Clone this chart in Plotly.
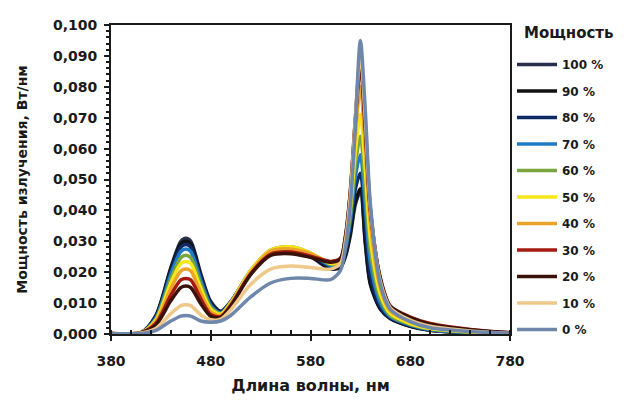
import plotly.graph_objects as go

wavelength = [380, 410, 425, 440, 450, 455, 460, 470, 480, 490, 500, 520, 540, 560, 580,
              600, 610, 615, 620, 625, 630, 635, 640, 650, 660, 680, 700, 740, 780]

p100 = [0.0002, 0.0004, 0.0060, 0.0215, 0.0300, 0.0310, 0.0300, 0.0195, 0.0105, 0.0074, 0.0105, 0.0200, 0.0260, 0.0270, 0.0250,
        0.0210, 0.0215, 0.0250, 0.0320, 0.0420, 0.0460, 0.0290, 0.0160, 0.0080, 0.0050, 0.0025, 0.0012, 0.0004, 0.0001]
p90 = [0.0002, 0.0004, 0.0058, 0.0210, 0.0291, 0.0300, 0.0291, 0.0189, 0.0100, 0.0072, 0.0103, 0.0200, 0.0262, 0.0272, 0.0252,
       0.0212, 0.0218, 0.0255, 0.0330, 0.0430, 0.0470, 0.0300, 0.0165, 0.0082, 0.0050, 0.0025, 0.0012, 0.0004, 0.0001]
p80 = [0.0002, 0.0004, 0.0055, 0.0203, 0.0281, 0.0290, 0.0281, 0.0183, 0.0097, 0.0070, 0.0102, 0.0202, 0.0265, 0.0275, 0.0255,
       0.0218, 0.0222, 0.0265, 0.0350, 0.0470, 0.0520, 0.0350, 0.0190, 0.0088, 0.0052, 0.0027, 0.0013, 0.0004, 0.0001]
p70 = [0.0002, 0.0004, 0.0052, 0.0193, 0.0267, 0.0275, 0.0267, 0.0173, 0.0092, 0.0068, 0.0103, 0.0205, 0.0270, 0.0280, 0.0260,
       0.0222, 0.0228, 0.0275, 0.0370, 0.0510, 0.0580, 0.0410, 0.0230, 0.0100, 0.0056, 0.0029, 0.0014, 0.0005, 0.0001]
p60 = [0.0002, 0.0004, 0.0048, 0.0178, 0.0247, 0.0255, 0.0247, 0.0160, 0.0086, 0.0066, 0.0102, 0.0205, 0.0272, 0.0282, 0.0262,
       0.0226, 0.0232, 0.0285, 0.0390, 0.0550, 0.0640, 0.0470, 0.0270, 0.0115, 0.0060, 0.0031, 0.0016, 0.0006, 0.0001]
p50 = [0.0002, 0.0004, 0.0045, 0.0165, 0.0228, 0.0235, 0.0228, 0.0148, 0.0080, 0.0064, 0.0100, 0.0205, 0.0272, 0.0282, 0.0262,
       0.0228, 0.0236, 0.0295, 0.0410, 0.0590, 0.0710, 0.0530, 0.0310, 0.0130, 0.0066, 0.0034, 0.0018, 0.0007, 0.0002]
p40 = [0.0002, 0.0004, 0.0040, 0.0147, 0.0204, 0.0210, 0.0204, 0.0132, 0.0072, 0.0060, 0.0097, 0.0200, 0.0268, 0.0275, 0.0260,
       0.0232, 0.0240, 0.0305, 0.0440, 0.0650, 0.0800, 0.0600, 0.0360, 0.0150, 0.0075, 0.0040, 0.0022, 0.0009, 0.0002]
p30 = [0.0002, 0.0004, 0.0034, 0.0126, 0.0175, 0.0180, 0.0175, 0.0114, 0.0063, 0.0056, 0.0092, 0.0195, 0.0258, 0.0265, 0.0252,
       0.0235, 0.0245, 0.0315, 0.0460, 0.0690, 0.0870, 0.0660, 0.0400, 0.0180, 0.0090, 0.0055, 0.0034, 0.0015, 0.0004]
p20 = [0.0002, 0.0004, 0.0029, 0.0108, 0.0150, 0.0155, 0.0150, 0.0098, 0.0057, 0.0054, 0.0090, 0.0192, 0.0254, 0.0260, 0.0248,
       0.0232, 0.0243, 0.0315, 0.0465, 0.0700, 0.0890, 0.0670, 0.0405, 0.0180, 0.0090, 0.0053, 0.0032, 0.0014, 0.0004]
p10 = [0.0002, 0.0003, 0.0018, 0.0066, 0.0092, 0.0095, 0.0092, 0.0062, 0.0046, 0.0048, 0.0078, 0.0160, 0.0210, 0.0220, 0.0215,
       0.0210, 0.0228, 0.0300, 0.0450, 0.0700, 0.0910, 0.0690, 0.0410, 0.0170, 0.0085, 0.0045, 0.0025, 0.0010, 0.0002]
p0 = [0.0002, 0.0002, 0.0012, 0.0042, 0.0058, 0.0060, 0.0058, 0.0042, 0.0038, 0.0042, 0.0060, 0.0120, 0.0165, 0.0180, 0.0180,
      0.0176, 0.0205, 0.0280, 0.0420, 0.0680, 0.0950, 0.0720, 0.0420, 0.0160, 0.0080, 0.0040, 0.0020, 0.0008, 0.0002]

series_names = ["100 %", "90 %", "80 %", "70 %", "60 %", "50 %", "40 %", "30 %", "20 %", "10 %", "0 %"]
series_values = [p100, p90, p80, p70, p60, p50, p40, p30, p20, p10, p0]
series_colors = ["#27304a", "#111111", "#0d2a66", "#1f7cc4", "#78a63c", "#f7e61a",
                 "#eda32a", "#a5190f", "#3a120a", "#efc98a", "#6f87ab"]

x_ticks = [380, 480, 580, 680, 780]
y_ticks = [0.0, 0.01, 0.02, 0.03, 0.04, 0.05, 0.06, 0.07, 0.08, 0.09, 0.10]

FONT = "DejaVu Sans, Verdana, sans-serif"
INK = "#1a1a1a"

# the page body adds an 8 px offset; layout numbers below are in figure pixels
L, T, PW, PH = 103, 17, 399, 309

fig = go.Figure()
for i, (name, vals, col) in enumerate(zip(series_names, series_values, series_colors)):
    fig.add_trace(go.Scatter(
        x=wavelength, y=vals, name=name, mode="lines",
        line=dict(color=col, width=3.5, shape="spline", smoothing=0.8),
        legendgroup="g%d" % i,
    ))

fig.add_annotation(
    text="Мощность", xref="paper", yref="paper",
    x=(514 - L) / PW, y=1 - (25 - T) / PH, xanchor="left", yanchor="middle",
    showarrow=False, font=dict(family=FONT, size=15, color=INK, weight="bold"),
)

# faint frame line at the left edge of the picture
fig.add_shape(type="line", xref="paper", yref="paper",
              x0=(-6 - L) / PW, x1=(-6 - L) / PW, y0=1 + T / PH, y1=-80 / PH,
              line=dict(color="#d4d4d4", width=1.5))

fig.update_layout(
    width=624, height=403,
    margin=dict(l=L, r=624 - L - PW, t=T, b=403 - T - PH, autoexpand=False),
    paper_bgcolor="white", plot_bgcolor="white",
    separators=", ",
    showlegend=True,
    legend=dict(
        x=(504 - L) / PW, y=1 - (42 - T) / PH, xanchor="left", yanchor="top",
        font=dict(family=FONT, size=12, color=INK, weight="bold"),
        tracegroupgap=7.5, itemwidth=40, bgcolor="rgba(0,0,0,0)", maxheight=400,
    ),
    xaxis=dict(
        range=[380, 780], tickvals=x_ticks, ticktext=[str(v) for v in x_ticks],
        showgrid=False, zeroline=False, automargin=False,
        showline=True, linecolor=INK, linewidth=2, mirror=True,
        ticks="outside", ticklen=5, tickwidth=2, tickcolor=INK, ticklabelstandoff=8,
        minor=dict(dtick=20, tick0=380, ticks="inside", ticklen=4, tickwidth=1.5, tickcolor=INK),
        tickfont=dict(family=FONT, size=14, color=INK, weight="bold"),
        title=dict(text="Длина волны, нм", font=dict(family=FONT, size=16, color=INK, weight="bold"), standoff=12),
    ),
    yaxis=dict(
        range=[0, 0.1], tickvals=y_ticks, tickformat=".3f",
        showgrid=False, zeroline=False, automargin=False,
        showline=True, linecolor=INK, linewidth=2, mirror=True,
        ticks="outside", ticklen=5, tickwidth=2, tickcolor=INK, ticklabelstandoff=4,
        minor=dict(dtick=0.002, tick0=0, ticks="outside", ticklen=3, tickwidth=1.5, tickcolor=INK),
        tickfont=dict(family=FONT, size=14, color=INK, weight="bold"),
        title=dict(text="Мощность излучения, Вт/нм", font=dict(family=FONT, size=14, color=INK, weight="bold"), standoff=22),
    ),
)

fig.write_html("out.html")
